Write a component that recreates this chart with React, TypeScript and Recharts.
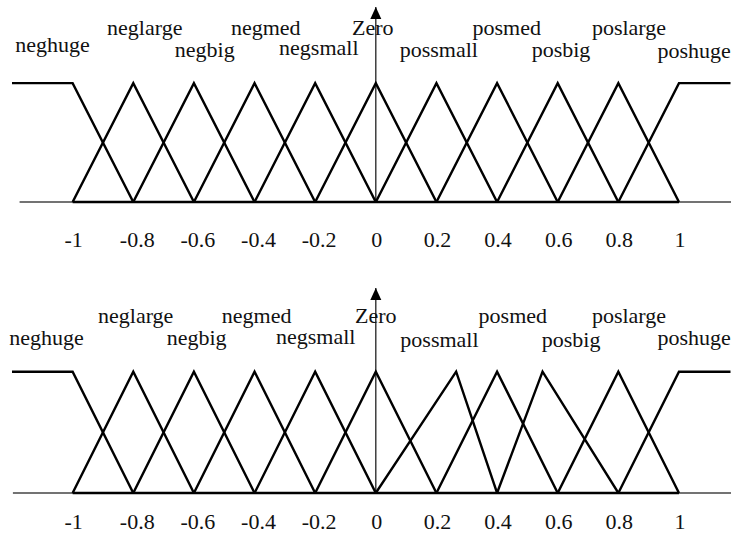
import React from 'react';
import { LineChart, Line, XAxis, YAxis, ReferenceLine, ReferenceDot } from 'recharts';

// Linguistic terms of the fuzzy partition
const TERMS = [
  'neghuge', 'neglarge', 'negbig', 'negmed', 'negsmall', 'Zero',
  'possmall', 'posmed', 'posbig', 'poslarge', 'poshuge',
];

// Axis ticks
const TICKS = [-1, -0.8, -0.6, -0.4, -0.2, 0, 0.2, 0.4, 0.6, 0.8, 1];
const TICK_LABELS = ['-1', '-0.8', '-0.6', '-0.4', '-0.2', '0', '0.2', '0.4', '0.6', '0.8', '1'];

// Universe of discourse shown on the horizontal axis
const X_MIN = -1.2;
const X_MAX = 1.1716;
const SHOULDER_START = -1.2;
const SHOULDER_END = 1.17;

// Upper partition: evenly spaced triangles (null = open shoulder)
const TOP_LEFT_FOOT = [null, -1, -0.8, -0.6, -0.4, -0.2, 0, 0.2, 0.4, 0.6, 0.8];
const TOP_PEAK = [-1, -0.8, -0.6, -0.4, -0.2, 0, 0.2, 0.4, 0.6, 0.8, 1];
const TOP_RIGHT_FOOT = [-0.8, -0.6, -0.4, -0.2, 0, 0.2, 0.4, 0.6, 0.8, 1, null];

// Lower partition: positive side tuned with shifted peaks
const BOTTOM_LEFT_FOOT = [null, -1, -0.8, -0.6, -0.4, -0.2, 0, 0.2, 0.4, 0.6, 0.8];
const BOTTOM_PEAK = [-1, -0.8, -0.6, -0.4, -0.2, 0, 0.265, 0.4, 0.55, 0.8, 1];
const BOTTOM_RIGHT_FOOT = [-0.8, -0.6, -0.4, -0.2, 0, 0.2, 0.4, 0.6, 0.8, 1, null];

// Term label anchors (x in universe units, y in membership units)
const TOP_LABEL_X = [-1.066, -0.762, -0.564, -0.363, -0.188, -0.01, 0.208, 0.432, 0.611, 0.835, 1.05];
const TOP_LABEL_Y = [1.26, 1.405, 1.22, 1.405, 1.236, 1.405, 1.22, 1.405, 1.22, 1.405, 1.215];
const BOTTOM_LABEL_X = [-1.086, -0.792, -0.591, -0.393, -0.198, 0, 0.21, 0.452, 0.644, 0.835, 1.05];
const BOTTOM_LABEL_Y = [1.22, 1.40, 1.22, 1.40, 1.225, 1.40, 1.205, 1.40, 1.205, 1.40, 1.22];

const FONT = '"Liberation Serif", "Times New Roman", serif';
const WIDTH = 731;

type Pt = { x: number; y: number };

function buildSets(left: (number | null)[], peak: number[], right: (number | null)[]): Pt[][] {
  return peak.map((p, i) => {
    const pts: Pt[] = [];
    const l = left[i];
    const r = right[i];
    if (l === null) pts.push({ x: SHOULDER_START, y: 1 });
    else pts.push({ x: l, y: 0 });
    pts.push({ x: p, y: 1 });
    if (r === null) pts.push({ x: SHOULDER_END, y: 1 });
    else pts.push({ x: r, y: 0 });
    return pts;
  });
}

const TOP_SETS = buildSets(TOP_LEFT_FOOT, TOP_PEAK, TOP_RIGHT_FOOT);
const BOTTOM_SETS = buildSets(BOTTOM_LEFT_FOOT, BOTTOM_PEAK, BOTTOM_RIGHT_FOOT);

type PanelProps = {
  height: number;
  marginTop: number;
  marginBottom: number;
  yMax: number;
  sets: Pt[][];
  labelX: number[];
  labelY: number[];
  baselineStart: number;
  tickOffset: number;
};

function Panel({ height, marginTop, marginBottom, yMax, sets, labelX, labelY, baselineStart, tickOffset }: PanelProps) {
  const renderTick = (props: any) => {
    const { x, y, payload } = props;
    const v = payload.value as number;
    const i = TICKS.findIndex((t) => Math.abs(t - v) < 1e-9);
    const dx = v < 0 && v > -1 ? 4 : 1;
    return (
      <text x={x + dx} y={y + tickOffset} textAnchor="middle" style={{ fontFamily: FONT }} fontSize={22} fill="#111">
        {TICK_LABELS[i]}
      </text>
    );
  };

  return (
    <LineChart
      width={WIDTH}
      height={height}
      margin={{ top: marginTop, right: 0, bottom: marginBottom, left: 12 }}
    >
      <XAxis
        type="number"
        dataKey="x"
        domain={[X_MIN, X_MAX]}
        ticks={TICKS}
        interval={0}
        allowDataOverflow
        axisLine={false}
        tickLine={false}
        tickSize={0}
        tickMargin={0}
        height={40}
        tick={renderTick}
      />
      <YAxis type="number" hide domain={[0, yMax]} allowDataOverflow />

      {/* thin horizontal axis */}
      <ReferenceLine
        segment={[{ x: baselineStart, y: 0 }, { x: X_MAX, y: 0 }]}
        stroke="#444"
        strokeWidth={1.4}
      />
      {/* zero-membership base of the partition */}
      <ReferenceLine
        segment={[{ x: -1, y: 0 }, { x: 1, y: 0 }]}
        stroke="#000"
        strokeWidth={2.7}
      />
      {/* vertical membership axis with arrowhead */}
      <ReferenceLine
        segment={[{ x: 0, y: 0 }, { x: 0, y: yMax }]}
        stroke="#222"
        strokeWidth={1.3}
      />
      <ReferenceDot
        x={0}
        y={yMax}
        r={6}
        shape={(p: any) => (
          <polygon
            points={`${p.cx},${p.cy} ${p.cx - 5.5},${p.cy + 12} ${p.cx + 5.5},${p.cy + 12}`}
            fill="#000"
          />
        )}
      />

      {sets.map((pts, i) => (
        <Line
          key={TERMS[i]}
          data={pts}
          dataKey="y"
          type="linear"
          stroke="#000"
          strokeWidth={2.4}
          strokeLinejoin="miter"
          dot={false}
          activeDot={false}
          isAnimationActive={false}
        />
      ))}

      {TERMS.map((name, i) => (
        <ReferenceDot
          key={`lbl-${name}`}
          x={labelX[i]}
          y={labelY[i]}
          r={1}
          shape={(p: any) => (
            <text x={p.cx} y={p.cy} textAnchor="middle" style={{ fontFamily: FONT }} fontSize={22} fill="#111">
              {name}
            </text>
          )}
        />
      ))}
    </LineChart>
  );
}

export default function App() {
  return (
    <div style={{ position: 'absolute', left: 0, top: 0, width: WIDTH, height: 535, background: '#fff' }}>
      <Panel
        height={268}
        marginTop={7}
        marginBottom={26}
        yMax={1.64}
        sets={TOP_SETS}
        labelX={TOP_LABEL_X}
        labelY={TOP_LABEL_Y}
        baselineStart={-1.175}
        tickOffset={45}
      />
      <Panel
        height={267}
        marginTop={20}
        marginBottom={2}
        yMax={1.69}
        sets={BOTTOM_SETS}
        labelX={BOTTOM_LABEL_X}
        labelY={BOTTOM_LABEL_Y}
        baselineStart={-1.197}
        tickOffset={36}
      />
    </div>
  );
}
